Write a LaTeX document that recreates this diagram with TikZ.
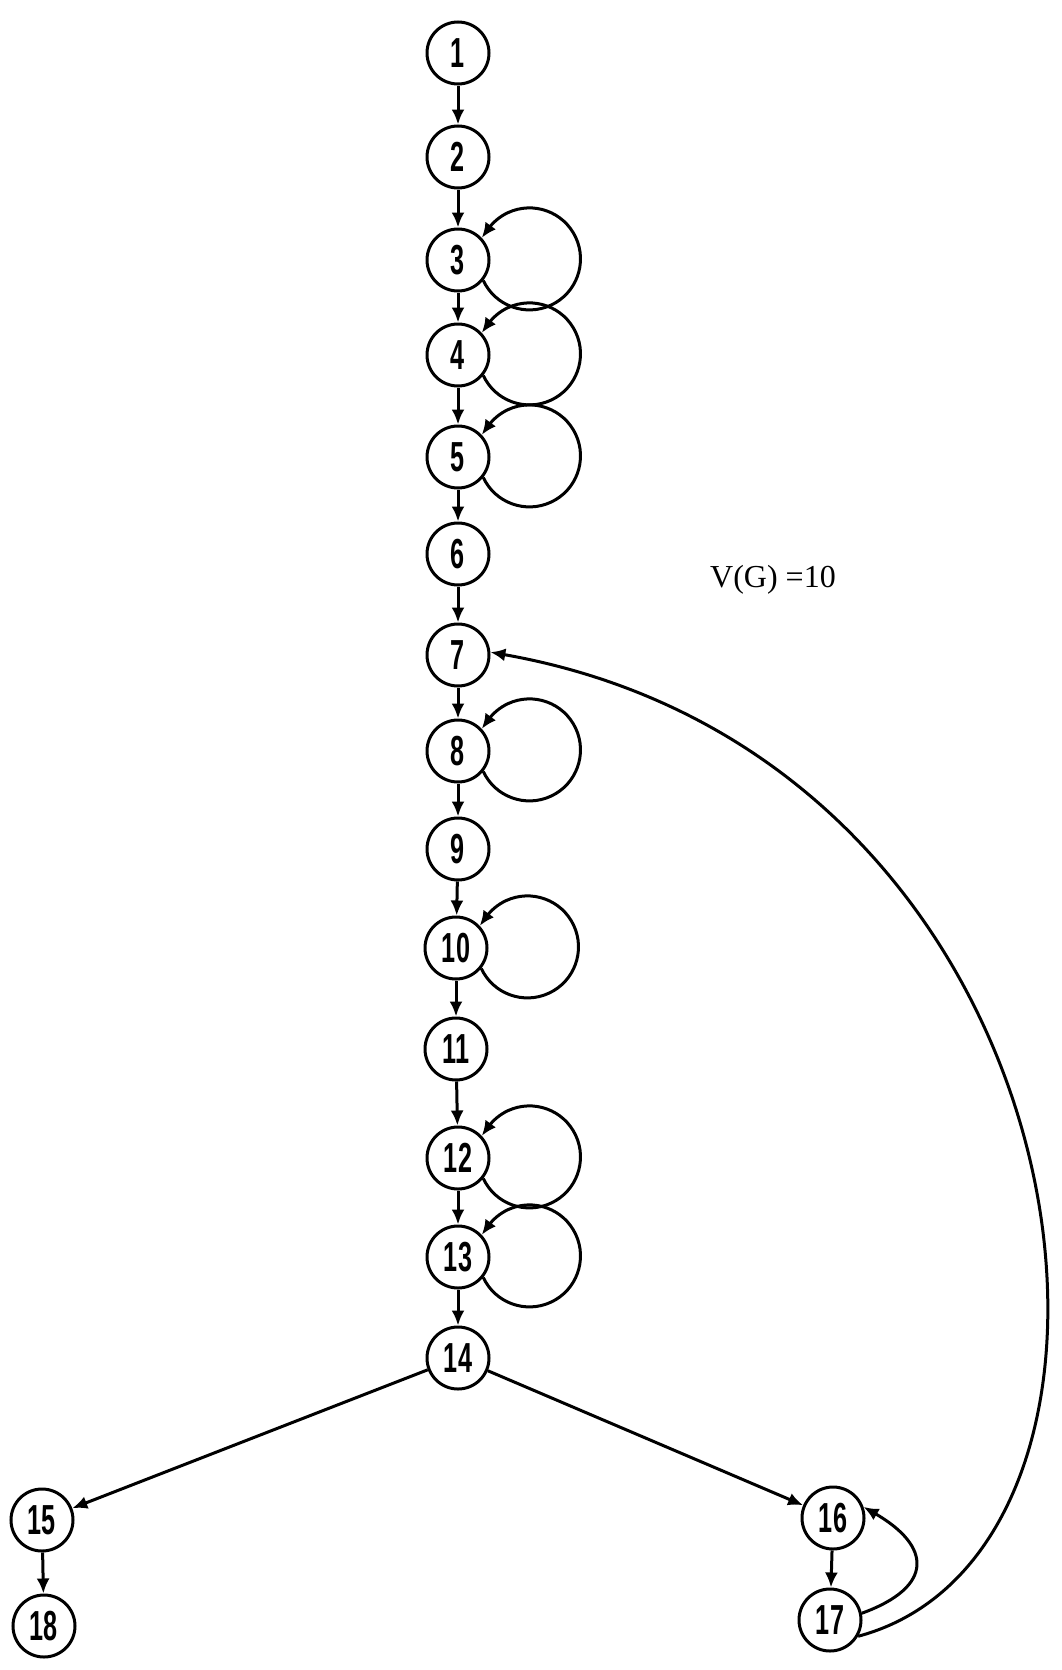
\documentclass[tikz,border=0pt]{standalone}
\usepackage{fontspec}
\usetikzlibrary{arrows.meta}
\newfontfamily\vtxfont[FakeStretch=0.6]{Liberation Sans}
\newfontfamily\capfont{Liberation Serif}
% self loop: out of the lower right, round a circle on the right, back in at the upper right
\newcommand{\selfloop}[1]{\draw[flow] (#1.-39) arc[start angle=-155, end angle=145, radius=51] -- (#1.43);}

\begin{document}
\begin{tikzpicture}[
    x=1pt, y=1pt,
    vtx/.style={circle, draw, line width=3pt, minimum size=62pt, inner sep=0pt,
                font=\vtxfont\bfseries\fontsize{42}{42}\selectfont},
    flow/.style={-{Latex[length=15pt,width=13pt]}, line width=3pt}]

  \useasboundingbox (0,0) rectangle (1062,-1670);

  % ---- main chain ---------------------------------------------------------
  \node[vtx] (n1)  at (458,-53)   {1};
  \node[vtx] (n2)  at (458,-157)  {2};
  \node[vtx] (n3)  at (458,-260)  {3};
  \node[vtx] (n4)  at (458,-355)  {4};
  \node[vtx] (n5)  at (458,-457)  {5};
  \node[vtx] (n6)  at (458,-554)  {6};
  \node[vtx] (n7)  at (458,-655)  {7};
  \node[vtx] (n8)  at (458,-751)  {8};
  \node[vtx] (n9)  at (458,-849)  {9};
  \node[vtx] (n10) at (456,-948)  {10};
  \node[vtx] (n11) at (456,-1049) {11};
  \node[vtx] (n12) at (458,-1158) {12};
  \node[vtx] (n13) at (458,-1257) {13};
  \node[vtx] (n14) at (458,-1358) {14};

  % ---- branches -----------------------------------------------------------
  \node[vtx] (n15) at (42,-1520)  {15};
  \node[vtx] (n18) at (44,-1626)  {18};
  \node[vtx] (n16) at (833,-1518) {16};
  \node[vtx] (n17) at (830,-1620) {17};

  \node[font=\capfont\fontsize{32}{32}\selectfont] (vg) at (773,-580) {V(G) =10};

  \foreach \a/\b in {1/2,2/3,3/4,4/5,5/6,6/7,7/8,8/9,9/10,10/11,11/12,12/13,13/14,15/18,16/17}
    \draw[flow] (n\a) -- (n\b);
  \draw[flow] (n14) -- (n15);
  \draw[flow] (n14) -- (n16);

  % ---- self loops ---------------------------------------------------------
  \foreach \v in {3,4,5,8,10,12,13}
    {\selfloop{n\v}}

  % ---- back edges ---------------------------------------------------------
  \draw[flow] (n17.12) .. controls +(20:78) and +(-30:78) .. (n16.20);
  \draw[flow] (n17.-30) .. controls +(15:340) and +(-10:620) .. (n7.5);
\end{tikzpicture}
\end{document}
